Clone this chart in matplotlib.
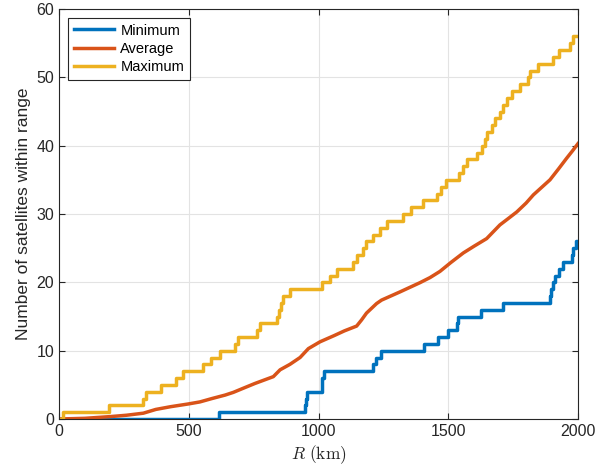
import numpy as np
import matplotlib
matplotlib.use('Agg')
import matplotlib.pyplot as plt

plt.rcParams['font.family'] = ['Liberation Sans', 'DejaVu Sans']
plt.rcParams['mathtext.fontset'] = 'cm'

# ---- data (R in km, number of satellites) ----
# step curves: value holds from R until next breakpoint
min_R = [0, 617, 948, 952, 957, 1012, 1015, 1020, 1209, 1222, 1240, 1407, 1462, 1500,
         1532, 1537, 1626, 1710, 1892, 1897, 1905, 1912, 1928, 1943, 1975, 1982, 1993]
min_v = [0, 1, 2, 3, 4, 5, 6, 7, 8, 9, 10, 11, 12, 13,
         14, 15, 16, 17, 18, 19, 20, 21, 22, 23, 24, 25, 26]

max_R = [0, 15, 193, 324, 335, 393, 450, 477, 555, 585, 620, 678, 689, 762, 775,
         839, 848, 856, 864, 892, 1012, 1044, 1070, 1134, 1147, 1173, 1183, 1209,
         1237, 1263, 1324, 1355, 1404, 1455, 1471, 1491, 1543, 1558, 1571, 1612,
         1629, 1642, 1651, 1667, 1680, 1700, 1712, 1725, 1744, 1776, 1808, 1815,
         1847, 1902, 1928, 1969, 1980]
max_v = [0, 1, 2, 3, 4, 5, 6, 7, 8, 9, 10, 11, 12, 13, 14,
         15, 16, 17, 18, 19, 20, 21, 22, 23, 24, 25, 26, 27,
         28, 29, 30, 31, 32, 33, 34, 35, 36, 37, 38, 39,
         40, 41, 42, 43, 44, 45, 46, 47, 48, 49, 50, 51,
         52, 53, 54, 55, 56]

avg_R = [0, 100, 197, 260, 325, 373, 430, 498, 543, 590, 640, 672, 710, 755, 826, 852,
         890, 929, 961, 1006, 1060, 1100, 1147, 1166, 1185, 1224, 1243, 1314, 1391,
         1430, 1468, 1510, 1558, 1600, 1648, 1699, 1730, 1764, 1800, 1828, 1860,
         1892, 1925, 1956, 1980, 2000]
avg_v = [0, 0.1, 0.35, 0.55, 0.85, 1.4, 1.8, 2.2, 2.5, 3.0, 3.5, 3.9, 4.5, 5.2, 6.2, 7.2,
         8.0, 9.0, 10.3, 11.3, 12.2, 12.9, 13.6, 14.5, 15.5, 16.9, 17.4, 18.6, 19.95,
         20.7, 21.6, 22.9, 24.3, 25.3, 26.4, 28.4, 29.3, 30.3, 31.6, 32.8, 33.9,
         35.0, 36.6, 38.15, 39.3, 40.3]

R_max = 2000

fig = plt.figure(figsize=(5.95, 4.74), dpi=100)
ax = fig.add_axes([59 / 595, 1 - 419 / 474, (578 - 59) / 595, (419 - 9) / 474])

lw = 2.5
ax.step(min_R + [R_max], min_v + [min_v[-1]], where='post', color='#0072BD', lw=lw, label='Minimum')
ax.plot(avg_R, avg_v, color='#D95319', lw=lw, label='Average')
ax.step(max_R + [R_max], max_v + [max_v[-1]], where='post', color='#EDB120', lw=lw, label='Maximum')

ax.set_xlim(0, 2000)
ax.set_ylim(0, 60)
ax.set_xticks(np.arange(0, 2001, 500))
ax.set_yticks(np.arange(0, 61, 10))

ax.grid(True, color='#E3E3E3', linewidth=0.8)
ax.set_axisbelow(True)
ax.tick_params(direction='in', top=True, right=True, labelsize=11.5,
               colors='#262626', length=4, width=0.8)
for s in ax.spines.values():
    s.set_color('#262626')
    s.set_linewidth(0.8)

ax.set_xlabel(r'$R\ \mathrm{(km)}$', fontsize=12.5, color='#262626', labelpad=3)
ax.set_ylabel('Number of satellites within range', fontsize=12.5, color='#262626', labelpad=4)

leg = ax.legend(loc='upper left', fontsize=10.5, handlelength=2.8, borderpad=0.4,
                labelspacing=0.3, handletextpad=0.4, fancybox=False, framealpha=1,
                borderaxespad=0.6)
leg.get_frame().set_edgecolor('#262626')
leg.get_frame().set_linewidth(0.8)

fig.savefig('out.png', dpi=100)
